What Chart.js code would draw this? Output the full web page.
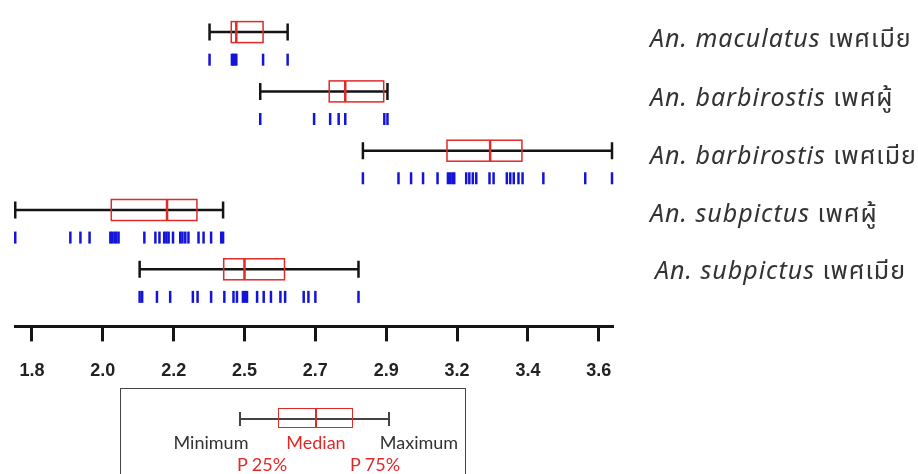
<!DOCTYPE html>
<html>
<head>
<meta charset="utf-8">
<script src="https://cdn.jsdelivr.net/npm/chart.js@4"></script>
<style>
  html, body { margin: 0; padding: 0; background: #fff; }
  #wrap { position: relative; width: 918px; height: 474px; overflow: hidden; }
  #grafico { position: absolute; left: 0; top: 0; }
  .lab { position: absolute; left: 650px; font: 25px "Noto Sans", "Noto Sans Thai", sans-serif; letter-spacing: 1px; color: #333; white-space: nowrap; line-height: 1; }
  .lab i { font-style: italic; }
  #leg { position: absolute; left: 120px; top: 388px; width: 346px; height: 120px; border: 1px solid #444; box-sizing: border-box; }
  .lt { position: absolute; font: 18px Lato, "Noto Sans", sans-serif; transform: translate(-50%, -50%); white-space: nowrap; }
  .k { position: absolute; background: #444; }
</style>
</head>
<body>
<div id="wrap">
  <canvas id="grafico" width="918" height="474"></canvas>
  <div id="labels"></div>
  <div id="leg">
    <div class="k" style="left:119px;top:29px;width:149px;height:2px"></div>
    <div class="k" style="left:118px;top:23px;width:2px;height:14px"></div>
    <div class="k" style="left:267px;top:23px;width:2px;height:14px"></div>
    <div style="position:absolute;left:157px;top:19px;width:75px;height:20px;border:1.5px solid #e02a2a;box-sizing:border-box"></div>
    <div style="position:absolute;left:194px;top:19px;width:2px;height:20px;background:#e02a2a"></div>
    <div class="lt" style="left:90px;top:53px;color:#333">Minimum</div>
    <div class="lt" style="left:195px;top:53px;color:#e02a2a">Median</div>
    <div class="lt" style="left:298px;top:53px;color:#333">Maximum</div>
    <div class="lt" style="left:141px;top:75px;color:#e02a2a">P 25%</div>
    <div class="lt" style="left:254px;top:75px;color:#e02a2a">P 75%</div>
  </div>
</div>
<script>
// dati (lunghezza, mm)
const specie = ['An. maculatus', 'An. barbirostis', 'An. barbirostis', 'An. subpictus', 'An. subpictus'];
const sesso = ['เพศเมีย', 'เพศผู้', 'เพศเมีย', 'เพศผู้', 'เพศเมีย'];
const righe = [0, 1, 2, 3, 4];

const minimi = [2.364, 2.525, 2.851, 1.747, 2.142];
const q1 = [2.433, 2.744, 3.118, 2.052, 2.409];
const mediane = [2.449, 2.795, 3.255, 2.229, 2.475];
const q3 = [2.534, 2.917, 3.356, 2.324, 2.602];
const massimi = [2.612, 2.929, 3.642, 2.407, 2.837];

// singole osservazioni (rug)
const oss1 = [2.364, 2.435, 2.439, 2.444, 2.449, 2.534, 2.612];
const oss2 = [2.525, 2.696, 2.747, 2.774, 2.795, 2.919, 2.929];
const oss3 = [2.851, 2.964, 3.004, 3.042, 3.088, 3.121, 3.128, 3.135, 3.141, 3.179, 3.189, 3.200,
  3.211, 3.253, 3.266, 3.308, 3.319, 3.330, 3.345, 3.358, 3.424, 3.557, 3.642];
const oss4 = [1.747, 1.922, 1.954, 1.983, 2.049, 2.055, 2.062, 2.068, 2.075, 2.157, 2.192, 2.205,
  2.220, 2.227, 2.234, 2.248, 2.271, 2.278, 2.287, 2.297, 2.329, 2.345, 2.369, 2.401, 2.407];
const oss5 = [2.142, 2.150, 2.197, 2.239, 2.311, 2.326, 2.369, 2.411, 2.440, 2.451, 2.470, 2.477,
  2.483, 2.515, 2.536, 2.559, 2.589, 2.604, 2.663, 2.678, 2.700, 2.837];
const osservazioni = [oss1, oss2, oss3, oss4, oss5];

// tacche dell'asse: valori equidistanti, etichette arrotondate come nell'originale
const tickValori = [1.8, 2.025, 2.25, 2.475, 2.7, 2.925, 3.15, 3.375, 3.6];
const tickEtichette = ['1.8', '2.0', '2.2', '2.5', '2.7', '2.9', '3.2', '3.4', '3.6'];

const ROSSO = '#e02a2a';
const BLU = '#1414d8';
const NERO = '#141414';

// etichette a destra
(function(){
  const tops = [25, 84, 142, 200, 257];
  const lefts = [650, 650, 650, 650, 655];
  const box = document.getElementById('labels');
  specie.forEach((s, i) => {
    const d = document.createElement('div');
    d.className = 'lab';
    d.style.top = tops[i] + 'px';
    d.style.left = lefts[i] + 'px';
    d.innerHTML = '<i>' + s + '</i> ' + sesso[i];
    box.appendChild(d);
  });
})();

// disegno dei box plot usando le scale del grafico
const boxPlot = {
  id: 'boxPlot',
  afterDatasetsDraw(chart){
    const ctx = chart.ctx;
    const x = chart.scales.x, y = chart.scales.y;
    ctx.save();
    righe.forEach((r, i) => {
      const yc = y.getPixelForValue(r);
      const a = x.getPixelForValue(minimi[i]);
      const b = x.getPixelForValue(massimi[i]);
      const p1 = x.getPixelForValue(q1[i]);
      const p3 = x.getPixelForValue(q3[i]);
      const m = x.getPixelForValue(mediane[i]);
      ctx.strokeStyle = NERO;
      ctx.lineWidth = 2.5;
      ctx.beginPath();
      ctx.moveTo(a, yc); ctx.lineTo(b, yc);
      ctx.moveTo(a, yc - 8.5); ctx.lineTo(a, yc + 8.5);
      ctx.moveTo(b, yc - 8.5); ctx.lineTo(b, yc + 8.5);
      ctx.stroke();
      ctx.strokeStyle = ROSSO;
      ctx.lineWidth = 1.5;
      ctx.strokeRect(p1, yc - 10.5, p3 - p1, 21);
      ctx.lineWidth = 2.5;
      ctx.beginPath();
      ctx.moveTo(m, yc - 10.5); ctx.lineTo(m, yc + 10.5);
      ctx.stroke();
    });
    ctx.restore();
  }
};

function creaGrafico(){
  const ctx = document.getElementById('grafico').getContext('2d');
  const punti = [];
  osservazioni.forEach((arr, i) => {
    arr.forEach(v => punti.push({ x: v, y: righe[i] + 0.465 }));
  });
  return new Chart(ctx, {
    type: 'scatter',
    data: {
      datasets: [{
        label: 'osservazioni',
        data: punti,
        pointStyle: 'line',
        rotation: 90,
        radius: 6,
        hoverRadius: 6,
        borderWidth: 2.5,
        borderColor: BLU,
        backgroundColor: BLU,
        clip: false
      }]
    },
    options: {
      responsive: false,
      animation: false,
      events: [],
      layout: { padding: { left: 15, right: 306, top: 0, bottom: 73 } },
      plugins: { legend: { display: false }, tooltip: { enabled: false } },
      scales: {
        x: {
          type: 'linear',
          min: Math.min(...minimi),
          max: Math.max(...massimi),
          afterBuildTicks(scale){ scale.ticks = tickValori.map(v => ({ value: v })); },
          border: { display: true, color: NERO, width: 3 },
          grid: { drawOnChartArea: false, drawTicks: true, tickLength: 15, color: NERO, lineWidth: 3 },
          ticks: {
            autoSkip: false,
            maxRotation: 0,
            padding: 19,
            color: '#222',
            font: { family: '"Liberation Sans", Arial, sans-serif', size: 18, weight: 'bold' },
            callback: (v, idx) => tickEtichette[idx]
          }
        },
        y: { type: 'linear', display: false, reverse: true, min: -0.398, max: 4.963 }
      }
    },
    plugins: [boxPlot]
  });
}

if(document.readyState === 'loading') document.addEventListener('DOMContentLoaded', creaGrafico);
else creaGrafico();
</script>
</body>
</html>
